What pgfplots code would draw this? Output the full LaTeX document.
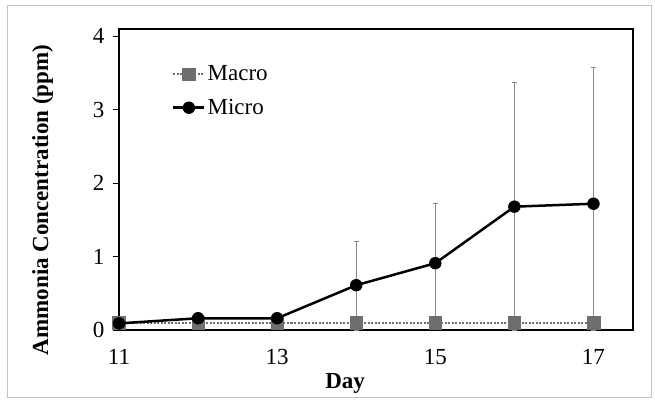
\documentclass[border=0pt]{standalone}
\usepackage{pgfplots}
\pgfplotsset{compat=1.18}
\usepackage{fontspec}
\setmainfont{Liberation Serif}
\definecolor{macro}{RGB}{110,110,110}
\definecolor{errc}{RGB}{135,135,135}
\definecolor{framec}{RGB}{195,195,195}
\begin{document}
\begin{tikzpicture}
\useasboundingbox (-119bp,-71bp) rectangle (536bp,330bp);
\draw[framec, line width=0.8bp] (-112bp,-67bp) rectangle (532bp,325bp);
\begin{axis}[
  at={(0,0)}, anchor=south west,
  scale only axis, width=514bp, height=301bp,
  xmin=11, xmax=17.5, ymin=0, ymax=4.1,
  xtick={11,13,15,17}, ytick={0,1,2,3,4},
  ytick pos=left, xtick pos=bottom,
  font=\fontsize{23bp}{27bp}\selectfont,
  /pgf/number format/assume math mode=true,
  axis line style={black, line width=1.5bp},
  tick align=outside,
  xtick style={draw=none},
  ytick style={black, line width=1bp},
  major tick length=6bp,
  xlabel={Day},
  ylabel={Ammonia Concentration (ppm)},
  label style={font=\fontsize{23bp}{27bp}\selectfont\bfseries},
  xlabel style={at={(axis description cs:0.44,-0.143)}, anchor=north, inner sep=0pt},
  ylabel style={at={(axis description cs:-0.128,0.432)}, anchor=south, inner sep=0pt},
  x tick label style={yshift=-10bp},
  y tick label style={xshift=-5bp},
  clip mode=individual,
  legend style={at={(axis description cs:0.103,0.885)}, anchor=north west, draw=none, fill=none,
    font=\fontsize{23bp}{27bp}\selectfont, row sep=13bp, inner sep=0pt},
  legend cell align=left,
  legend image code/.code={\draw[mark repeat=2,mark phase=2,#1] plot coordinates {(0bp,0bp) (15.5bp,0bp) (31bp,0bp)};},
]
% Micro error bars (drawn first, behind markers)
\addplot[forget plot, draw=none, mark=none,
  error bars/.cd, y dir=both, y explicit,
  error bar style={draw=errc, line width=1bp, solid},
  error mark options={rotate=90, mark size=2.5bp, draw=errc, line width=1bp}]
  coordinates {
  (14,0.61) += (0,0.60) -= (0,0.61)
  (15,0.91) += (0,0.81) -= (0,0.81)
  (16,1.68) += (0,1.69) -= (0,1.68)
  (17,1.72) += (0,1.85) -= (0,1.72)
  };
\addplot[color=macro, line width=2bp, dash pattern=on 2bp off 1.5bp,
  mark=square*, mark size=6.3bp, mark options={solid, fill=macro, draw=macro, line width=0.5bp}]
  coordinates {(11,0.1) (12,0.1) (13,0.1) (14,0.1) (15,0.1) (16,0.1) (17,0.1)};
\addlegendentry{Macro}
\addplot[color=black, line width=2.5bp,
  mark=*, mark size=5.8bp, mark options={solid, fill=black, line width=0.8bp}]
  coordinates {(11,0.09) (12,0.16) (13,0.16) (14,0.61) (15,0.91) (16,1.68) (17,1.72)};
\addlegendentry{Micro}
\end{axis}
\end{tikzpicture}
\end{document}
